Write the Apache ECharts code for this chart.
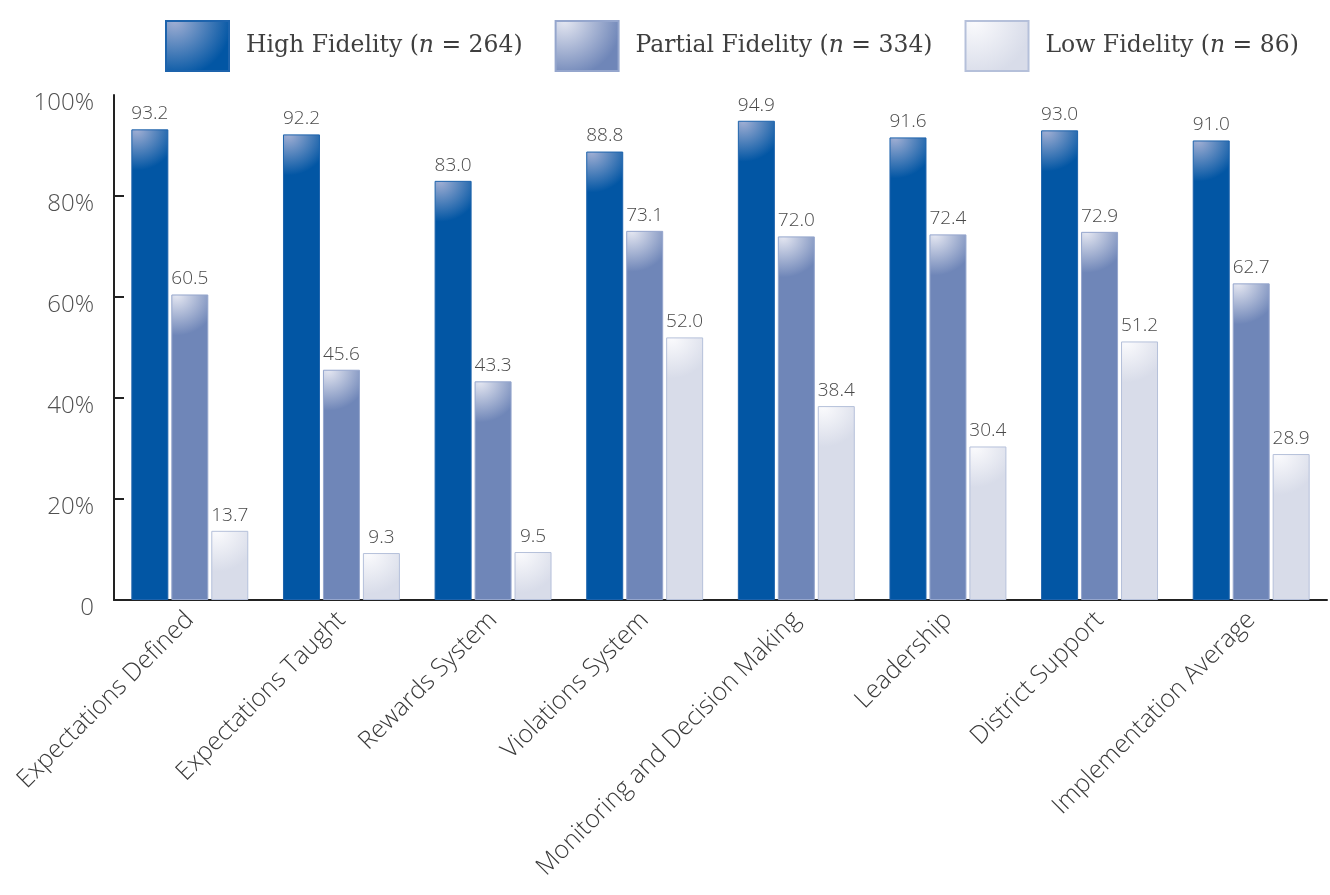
<!DOCTYPE html>
<html>
<head>
<meta charset="utf-8">
<script src="https://cdn.jsdelivr.net/npm/echarts@6/dist/echarts.min.js"></script>
<style>html,body{margin:0;padding:0;background:#fff}#c{width:1330px;height:895px}</style>
</head>
<body>
<div id="c"></div>
<script>
const categories = ['Expectations Defined','Expectations Taught','Rewards System','Violations System','Monitoring and Decision Making','Leadership','District Support','Implementation Average'];
const seriesNames = ['High Fidelity ({i|n} = 264)','Partial Fidelity ({i|n} = 334)','Low Fidelity ({i|n} = 86)'];
const highFidelity = [93.2, 92.2, 83.0, 88.8, 94.9, 91.6, 93.0, 91.0];
const partialFidelity = [60.5, 45.6, 43.3, 73.1, 72.0, 72.4, 72.9, 62.7];
const lowFidelity = [13.7, 9.3, 9.5, 52.0, 38.4, 30.4, 51.2, 28.9];
const yTicks = [0, 20, 40, 60, 80, 100];

const numFont = '"Open Sans", Lato, sans-serif';
const legendFont = '"DejaVu Serif", serif';

function grad(light, base) {
  return new echarts.graphic.RadialGradient(0.15, 0.0, 1.3, [
    {offset: 0, color: light},
    {offset: 0.85, color: base},
    {offset: 1, color: base}
  ]);
}
const styles = [
  {color: grad('#a3b0d4', '#0256a4'), borderColor: '#1d63ac'},
  {color: grad('#e6e8f2', '#6f86b8'), borderColor: '#95a6cd'},
  {color: grad('#fbfbfd', '#d8dce9'), borderColor: '#b5c0da'}
];
const data = [highFidelity, partialFidelity, lowFidelity];

const chart = echarts.init(document.getElementById('c'), null, {renderer: 'canvas'});
chart.setOption({
  animation: false,
  legend: {
    top: 15,
    left: 160,
    itemWidth: 63,
    itemHeight: 50,
    itemGap: 32,
    icon: 'rect',
    data: seriesNames,
    textStyle: {
      fontFamily: legendFont, fontSize: 23.5, color: '#3f3f3f', padding: [0,0,0,12],
      rich: { i: {fontFamily: legendFont, fontStyle: 'italic', fontSize: 23.5, color: '#3f3f3f'} }
    }
  },
  grid: {left: 114, right: 3, top: 95, bottom: 295, containLabel: false},
  xAxis: {
    type: 'category',
    data: categories,
    axisLine: {lineStyle: {color: '#222', width: 2}},
    axisTick: {inside: true, length: 13, lineStyle: {color: '#222', width: 2}},
    axisLabel: {rotate: 45, fontFamily: numFont, fontSize: 25, color: '#3a3a3a', margin: 16, interval: 0, fontWeight: 300}
  },
  yAxis: {
    type: 'value',
    min: 0, max: 100, interval: 20,
    splitLine: {show: false},
    axisLine: {show: true, lineStyle: {color: '#222', width: 2}},
    axisTick: {show: true, inside: true, length: 10, customValues: [20, 40, 60, 80], lineStyle: {color: '#222', width: 2}},
    axisLabel: {
      fontFamily: numFont, fontSize: 24, color: '#505050', margin: 20, fontWeight: 300,
      verticalAlign: 'top', lineHeight: 16,
      customValues: yTicks,
      formatter: v => v === 0 ? '0' : v + '%'
    }
  },
  series: data.map((d, i) => ({
    name: seriesNames[i],
    type: 'bar',
    data: d,
    barWidth: 37,
    barGap: '8%',
    itemStyle: {color: styles[i].color, borderColor: styles[i].borderColor, borderWidth: 1},
    label: {
      show: true, position: 'top', distance: 6,
      fontFamily: numFont, fontSize: 19, color: '#4a4a4a', fontWeight: 300,
      formatter: p => p.value.toFixed(1)
    }
  }))
});
</script>
</body>
</html>
